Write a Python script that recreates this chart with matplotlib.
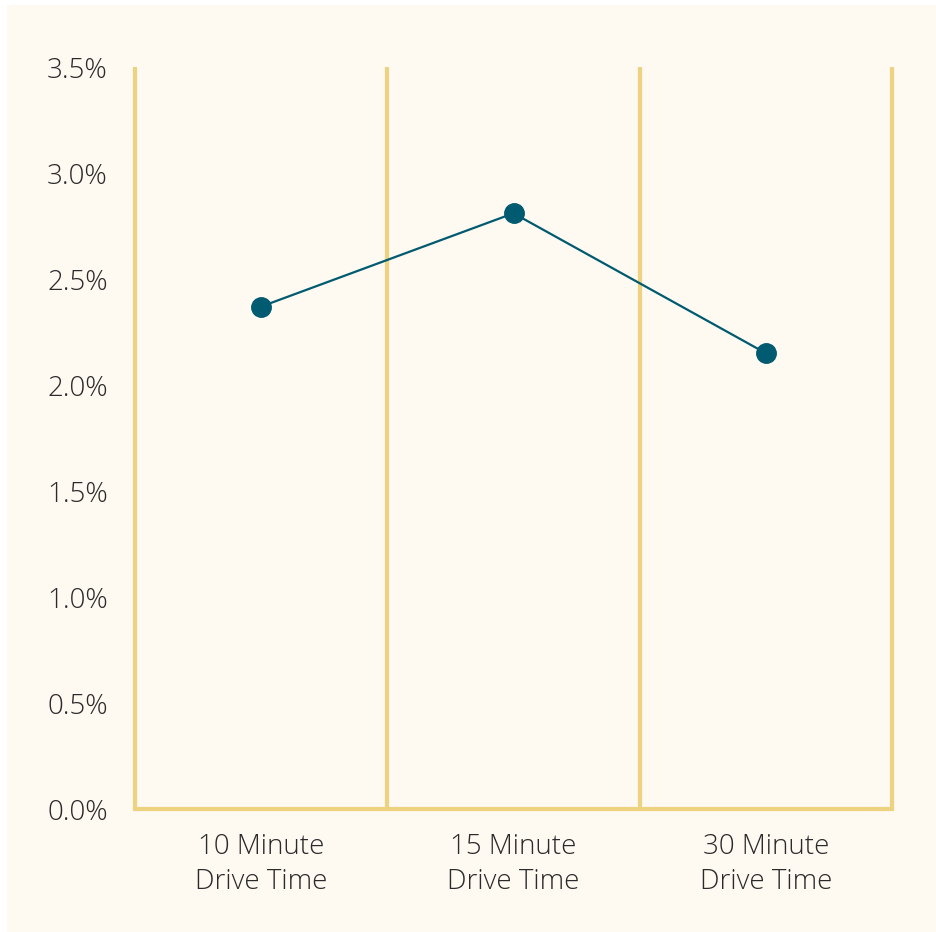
import matplotlib
matplotlib.use("Agg")
import matplotlib.pyplot as plt
from matplotlib.patches import Rectangle
from matplotlib.ticker import FuncFormatter, MultipleLocator

categories = ["10 Minute\nDrive Time", "15 Minute\nDrive Time", "30 Minute\nDrive Time"]
values = [2.37, 2.81, 2.15]

cream = "#FEF9F1"
gold = "#EDD27F"
teal = "#005A70"
txt = "#2A2A2A"

W, H = 936, 932
fig = plt.figure(figsize=(W / 100, H / 100), dpi=100)
fig.patch.set_facecolor("white")
fig.add_artist(Rectangle((7 / W, -0.01), 1, 1.01 - 5 / H, transform=fig.transFigure,
                         facecolor=cream, edgecolor="none", zorder=-10))

ax = fig.add_axes([135 / W, 1 - 809 / H, (892 - 135) / W, (809 - 67) / H])
ax.set_facecolor("none")
x = list(range(len(categories)))
ax.set_xlim(-0.5, len(categories) - 0.5)
ax.set_ylim(0, 3.5)

for b in [i - 0.5 for i in range(len(categories) + 1)]:
    ax.axvline(b, color=gold, lw=3, zorder=1, solid_capstyle="butt", clip_on=False)
ax.axhline(0, color=gold, lw=3, zorder=1, solid_capstyle="projecting", clip_on=False)

ax.plot(x, values, color=teal, lw=1.6, marker="o", markersize=14, zorder=3)

for s in ax.spines.values():
    s.set_visible(False)

ax.yaxis.set_major_locator(MultipleLocator(0.5))
ax.yaxis.set_major_formatter(FuncFormatter(lambda v, p: f"{v:.1f}%"))
ax.set_xticks(x)
ax.set_xticklabels(categories, linespacing=1.3)
ax.tick_params(axis="both", length=0, labelsize=20, colors=txt)
ax.tick_params(axis="y", pad=19.5)
ax.tick_params(axis="x", pad=17.5)
for lab in ax.get_xticklabels() + ax.get_yticklabels():
    lab.set_family(["Open Sans", "DejaVu Sans"])
    lab.set_fontweight("light")

fig.savefig("out.png", dpi=100, facecolor=fig.get_facecolor())
